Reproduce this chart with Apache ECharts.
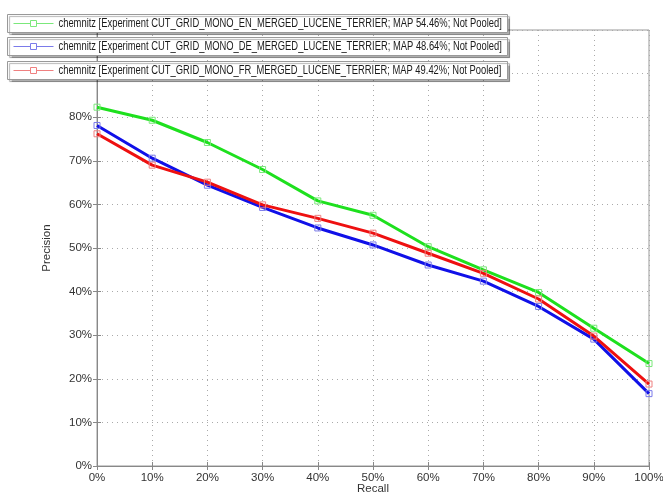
<!DOCTYPE html>
<html>
<head>
<meta charset="utf-8">
<script src="https://cdn.jsdelivr.net/npm/echarts@6/dist/echarts.min.js"></script>
<style>
  html, body { margin: 0; padding: 0; background: #fff; }
  #main { width: 663px; height: 496px; }
</style>
</head>
<body>
<div id="main"></div>
<script>
var recall = [0, 10, 20, 30, 40, 50, 60, 70, 80, 90, 100];
var precEN = [82.3, 79.3, 74.2, 68.0, 60.8, 57.5, 50.3, 45.0, 39.8, 31.6, 23.5];
var precDE = [78.1, 70.6, 64.4, 59.3, 54.6, 50.7, 46.1, 42.4, 36.6, 29.1, 16.6];
var precFR = [76.2, 69.0, 65.1, 59.9, 56.8, 53.4, 48.8, 44.2, 38.3, 29.8, 18.8];
var names = [
  'chemnitz [Experiment CUT_GRID_MONO_EN_MERGED_LUCENE_TERRIER; MAP 54.46%; Not Pooled]',
  'chemnitz [Experiment CUT_GRID_MONO_DE_MERGED_LUCENE_TERRIER; MAP 48.64%; Not Pooled]',
  'chemnitz [Experiment CUT_GRID_MONO_FR_MERGED_LUCENE_TERRIER; MAP 49.42%; Not Pooled]'
];
var lineColors = ['#1ee01e', '#1010e8', '#ee1010'];
var markColors = ['#7be87b', '#7b7bea', '#ef8080'];

var chart = echarts.init(document.getElementById('main'));

function pairs(ys) {
  return recall.map(function (x, i) { return [x, ys[i]]; });
}
function makeSeries(i, ys) {
  return {
    name: names[i],
    type: 'line',
    data: pairs(ys),
    symbol: 'rect',
    symbolSize: 6,
    showAllSymbol: true,
    lineStyle: { color: lineColors[i], width: 3 },
    itemStyle: { color: 'rgba(255,255,255,0)', borderColor: markColors[i], borderWidth: 1 },
    z: 3 + i
  };
}
// legend boxes, drawn by hand (matlab style: one framed box per entry)
function legendBox(i, top) {
  return {
    type: 'group', left: 7, top: top, z: 100,
    children: [
      { type: 'rect', z: 100, shape: { x: 0, y: 0, width: 500, height: 18 },
        style: { fill: '#fff', stroke: '#999', lineWidth: 1,
                 shadowColor: 'rgba(0,0,0,0.3)', shadowOffsetX: 2, shadowOffsetY: 2, shadowBlur: 1 } },
      { type: 'line', z: 101, shape: { x1: 6, y1: 9, x2: 46, y2: 9 },
        style: { stroke: markColors[i], lineWidth: 1 } },
      { type: 'rect', z: 102, shape: { x: 23, y: 6, width: 6, height: 6 },
        style: { fill: '#fff', stroke: markColors[i], lineWidth: 1 } },
      { type: 'text', z: 102, x: 51, y: 9.5, scaleX: 0.75,
        style: { text: names[i], fill: '#1a1a1a', verticalAlign: 'middle',
                 font: '12.5px "Liberation Sans", sans-serif' } }
    ]
  };
}

var axisFont = { fontFamily: 'Liberation Sans', fontSize: 11.5, color: '#333' };
var titleFont = '11.5px "Liberation Sans", sans-serif';
option = {
  animation: false,
  graphic: [
    legendBox(0, 14), legendBox(1, 37), legendBox(2, 61),
    // axis titles
    { type: 'text', x: 373, y: 489,
      style: { text: 'Recall', font: titleFont, fill: '#333', align: 'center', verticalAlign: 'middle' } },
    { type: 'text', x: 47, y: 248, rotation: Math.PI / 2,
      style: { text: 'Precision', font: titleFont, fill: '#333', align: 'center', verticalAlign: 'middle' } }
  ],
  grid: { left: 97, right: 14, top: 30, bottom: 30, show: true, borderColor: '#999', borderWidth: 1,
          containLabel: false, outerBoundsMode: 'none' },
  xAxis: [{
    type: 'value', min: 0, max: 100, interval: 10,
    axisLine: { lineStyle: { color: '#888' } },
    axisTick: { inside: true, length: 4, lineStyle: { color: '#888' } },
    axisLabel: Object.assign({ formatter: '{value}%', margin: 6 }, axisFont),
    splitLine: { lineStyle: { color: '#aaa', type: [1, 4] } }
  }, {
    type: 'value', min: 0, max: 100, interval: 10, position: 'top',
    axisLine: { lineStyle: { color: '#888' } },
    axisTick: { inside: true, length: 4, lineStyle: { color: '#888' } },
    axisLabel: { show: false }, splitLine: { show: false }
  }],
  yAxis: [{
    type: 'value', min: 0, max: 100, interval: 10,
    axisLine: { show: true, lineStyle: { color: '#888' } },
    axisTick: { show: true, inside: true, length: 4, lineStyle: { color: '#888' } },
    axisLabel: Object.assign({ formatter: '{value}%', margin: 5 }, axisFont),
    splitLine: { lineStyle: { color: '#aaa', type: [1, 4] } }
  }, {
    type: 'value', min: 0, max: 100, interval: 10, position: 'right',
    axisLine: { show: true, lineStyle: { color: '#888' } },
    axisTick: { show: true, inside: true, length: 4, lineStyle: { color: '#888' } },
    axisLabel: { show: false }, splitLine: { show: false }
  }],
  series: [makeSeries(0, precEN), makeSeries(1, precDE), makeSeries(2, precFR)]
};
chart.setOption(option);
</script>
</body>
</html>
